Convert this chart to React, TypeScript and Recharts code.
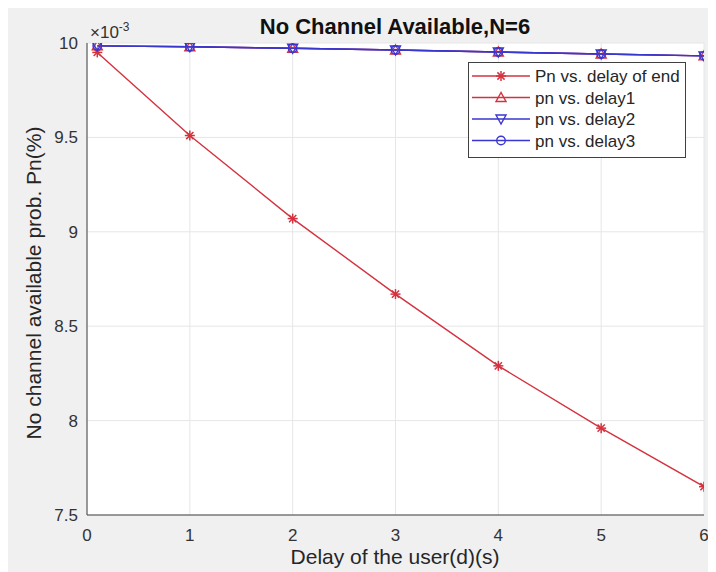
import React from 'react';
import { LineChart, Line, XAxis, YAxis, CartesianGrid, Legend } from 'recharts';

// Delay of the user (s) on the x axis
const delays = [0.1, 1, 2, 3, 4, 5, 6];
// Probability that no channel is available, in units of 10^-3
const pnDelayOfEnd = [9.95, 9.51, 9.07, 8.67, 8.29, 7.96, 7.65];
const pnDelay1 = [9.985, 9.98, 9.972, 9.963, 9.952, 9.942, 9.932];
const pnDelay2 = [9.985, 9.98, 9.972, 9.963, 9.952, 9.942, 9.932];
const pnDelay3 = [9.985, 9.98, 9.972, 9.963, 9.952, 9.942, 9.932];

const xTicks = [0, 1, 2, 3, 4, 5, 6];
const yTicks = [7.5, 8, 8.5, 9, 9.5, 10];
const seriesNames = ['Pn vs. delay of end', 'pn vs. delay1', 'pn vs. delay2', 'pn vs. delay3'];

const RED = '#d4323e';
const BLUE = '#3a36d0';
const AXIS = '#404040';
const FONT = '"Liberation Sans", Arial, Helvetica, sans-serif';

const data = delays.map((d, i) => ({
  d,
  end: pnDelayOfEnd[i],
  d1: pnDelay1[i],
  d2: pnDelay2[i],
  d3: pnDelay3[i],
}));

type MarkerKind = 'star' | 'up' | 'down' | 'circle';

function Marker({ kind, cx, cy, color }: { kind: MarkerKind; cx: number; cy: number; color: string }) {
  const r = 5;
  if (kind === 'star') {
    const k = r * 0.72;
    return (
      <g stroke={color} strokeWidth={1.5} fill="none">
        <line x1={cx - r} y1={cy} x2={cx + r} y2={cy} />
        <line x1={cx} y1={cy - r} x2={cx} y2={cy + r} />
        <line x1={cx - k} y1={cy - k} x2={cx + k} y2={cy + k} />
        <line x1={cx - k} y1={cy + k} x2={cx + k} y2={cy - k} />
      </g>
    );
  }
  if (kind === 'up') {
    return (
      <polygon
        points={`${cx},${cy - r} ${cx - r},${cy + r * 0.8} ${cx + r},${cy + r * 0.8}`}
        stroke={color}
        strokeWidth={1.4}
        fill="none"
      />
    );
  }
  if (kind === 'down') {
    return (
      <polygon
        points={`${cx},${cy + r} ${cx - r},${cy - r * 0.8} ${cx + r},${cy - r * 0.8}`}
        stroke={color}
        strokeWidth={1.4}
        fill="none"
      />
    );
  }
  return <circle cx={cx} cy={cy} r={r * 0.85} stroke={color} strokeWidth={1.4} fill="none" />;
}

const makeDot = (kind: MarkerKind, color: string, id: string) => (props: any) => {
  const { cx, cy, index } = props;
  if (cx == null || cy == null) return <g key={`${id}-${index}`} />;
  return (
    <g key={`${id}-${index}`}>
      <Marker kind={kind} cx={cx} cy={cy} color={color} />
    </g>
  );
};

const legendItems: { name: string; color: string; kind: MarkerKind }[] = [
  { name: seriesNames[0], color: RED, kind: 'star' },
  { name: seriesNames[1], color: RED, kind: 'up' },
  { name: seriesNames[2], color: BLUE, kind: 'down' },
  { name: seriesNames[3], color: BLUE, kind: 'circle' },
];

const renderLegend = () => (
  <svg width={218} height={96} style={{ display: 'block' }}>
    <rect x={0.5} y={0.5} width={217} height={95} fill="#ffffff" stroke="#404040" strokeWidth={1} />
    {legendItems.map((it, i) => {
      const y = 14 + i * 21.5;
      return (
        <g key={it.name}>
          <line x1={4} y1={y} x2={62} y2={y} stroke={it.color} strokeWidth={1.4} />
          <Marker kind={it.kind} cx={33} cy={y} color={it.color} />
          <text x={67} y={y + 6} fontFamily={FONT} fontSize={17} fill="#262626">
            {it.name}
          </text>
        </g>
      );
    })}
  </svg>
);

const fmtY = (v: number) => String(v);

export default function App() {
  return (
    <div style={{ width: 708, height: 564, background: '#f0f0f0', position: 'relative', fontFamily: FONT }}>
      <LineChart
        width={708}
        height={564}
        data={data}
        margin={{ top: 35, right: 12, bottom: 27, left: 19 }}
        style={{ background: '#f0f0f0' }}
      >
        <CartesianGrid stroke="#e6e6e6" strokeWidth={1} fill="#ffffff" />
        <XAxis
          dataKey="d"
          type="number"
          domain={[0, 6]}
          ticks={xTicks}
          height={30}
          stroke={AXIS}
          tickLine={false}
          tickMargin={8}
          tick={{ fill: '#333333', fontSize: 17, fontFamily: FONT }}
          allowDataOverflow
        />
        <XAxis
          xAxisId="top"
          dataKey="d"
          type="number"
          orientation="top"
          domain={[0, 6]}
          ticks={xTicks}
          height={0}
          mirror
          stroke={AXIS}
          tickSize={5}
          tick={() => <g />}
        />
        <XAxis
          xAxisId="bottomTicks"
          dataKey="d"
          type="number"
          orientation="bottom"
          domain={[0, 6]}
          ticks={xTicks}
          height={0}
          mirror
          stroke={AXIS}
          tickSize={5}
          tick={() => <g />}
        />
        <YAxis
          type="number"
          domain={[7.5, 10]}
          ticks={yTicks}
          width={60}
          stroke={AXIS}
          tickLine={false}
          tickMargin={3}
          tickFormatter={fmtY}
          tick={{ fill: '#333333', fontSize: 17, fontFamily: FONT }}
          allowDataOverflow
        />
        <YAxis
          yAxisId="right"
          type="number"
          orientation="right"
          domain={[7.5, 10]}
          ticks={yTicks}
          width={0}
          mirror
          stroke={AXIS}
          tickSize={5}
          tick={() => <g />}
        />
        <YAxis
          yAxisId="leftTicks"
          type="number"
          orientation="left"
          domain={[7.5, 10]}
          ticks={yTicks}
          width={0}
          mirror
          stroke={AXIS}
          tickSize={5}
          tick={() => <g />}
        />
        <Line
          dataKey="end"
          name={seriesNames[0]}
          stroke={RED}
          strokeWidth={1.4}
          dot={makeDot('star', RED, 'end')}
          isAnimationActive={false}
        />
        <Line
          dataKey="d1"
          name={seriesNames[1]}
          stroke={RED}
          strokeWidth={1.4}
          dot={makeDot('up', RED, 'd1')}
          isAnimationActive={false}
        />
        <Line
          dataKey="d2"
          name={seriesNames[2]}
          stroke={BLUE}
          strokeWidth={1.4}
          dot={makeDot('down', BLUE, 'd2')}
          isAnimationActive={false}
        />
        <Line
          dataKey="d3"
          name={seriesNames[3]}
          stroke={BLUE}
          strokeWidth={1.4}
          dot={makeDot('circle', BLUE, 'd3')}
          isAnimationActive={false}
        />
        <Legend
          layout="vertical"
          align="center"
          verticalAlign="middle"
          content={renderLegend}
          wrapperStyle={{ position: 'absolute', left: 460, top: 54, width: 218, height: 96 }}
        />
        <text x={387} y={26} textAnchor="middle" fontFamily={FONT} fontSize={22} fontWeight="bold" fill="#111111">
          No Channel Available,N=6
        </text>
        <text x={387} y={556} textAnchor="middle" fontFamily={FONT} fontSize={21} fill="#262626">
          Delay of the user(d)(s)
        </text>
        <text
          x={27}
          y={275}
          textAnchor="middle"
          dominantBaseline="middle"
          transform="rotate(-90 27 275)"
          fontFamily={FONT}
          fontSize={21}
          fill="#262626"
        >
          No channel available prob. Pn(%)
        </text>
        <text x={82} y={30} fontFamily={FONT} fontSize={17} fill="#333333">
          ×10<tspan dy={-7} fontSize={12}>-3</tspan>
        </text>
      </LineChart>
    </div>
  );
}
